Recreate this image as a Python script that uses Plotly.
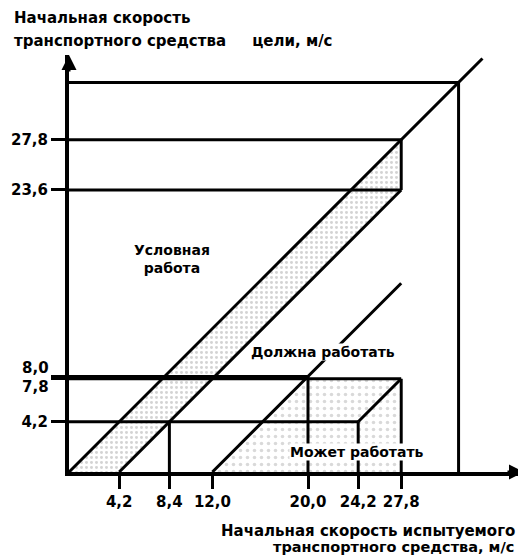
import plotly.graph_objects as go

# ---- key speeds (m/s) ----
x_tick_vals = [4.2, 8.4, 12.0, 20.0, 24.2, 27.8]
x_tick_text = ["4,2", "8,4", "12,0", "20,0", "24,2", "27,8"]
y_tick_vals = [4.2, 7.8, 8.0, 23.6, 27.8]
y_tick_text = ["4,2", "", "", "23,6", "27,8"]
y_close_labels = ["8,0", "7,8"]           # labels for the two close ticks
y_close_vals = [8.0, 7.8]

v_low = 4.2       # relative-speed offset of conditional band
v_sub_a = 8.4
v_rel_must = 12.0
v_sub_b = 20.0
v_sub_c = 24.2
v_max = 27.8
v_tgt_hi = 23.6
v_tgt_lo = 7.8
v_tgt_must = 8.0
frame_max = 32.6
diag_max = 34.6

region_labels = ["Условная<br>работа", "Должна работать", "Может работать"]
y_title_lines = ["Начальная скорость",
                 "транспортного средства" + "\u00a0" * 5 + "цели, м/с"]
x_title_lines = ["Начальная скорость испытуемого",
                 "транспортного средства, м/с"]

# ---- layout geometry (page has an 8px body margin) ----
OFF = 8
W, H = 526 - OFF, 556 - OFF
L, R, T, B = 61, 2, 47, 84
PW, PH = W - L - R, H - T - B
S = 11.95                     # px per m/s
XMAX, YMAX = PW / S, PH / S

def pxx(px):   # page pixel x -> paper
    return (px - OFF - L) / PW

def pxy(py):   # page pixel y -> paper
    return (H - B - (py - OFF)) / PH

FONT = "DejaVu Sans"
fig = go.Figure()

# ---- stippled regions ----
band1_x = [0, v_max, v_max, v_low, 0]
band1_y = [0, v_max, v_tgt_hi, 0, 0]
fig.add_trace(go.Scatter(x=band1_x, y=band1_y, mode="lines", fill="toself",
                         line=dict(width=0), fillcolor="rgba(255,255,255,0)",
                         fillpattern=dict(shape=".", fgcolor="#a8a8a8", bgcolor="rgba(255,255,255,0)",
                                          size=5, solidity=0.28),
                         hoverinfo="skip", showlegend=False))
band2_x = [v_rel_must, v_tgt_lo + v_rel_must, v_max, v_max, v_rel_must]
band2_y = [0, v_tgt_lo, v_tgt_lo, 0, 0]
fig.add_trace(go.Scatter(x=band2_x, y=band2_y, mode="lines", fill="toself",
                         line=dict(width=0), fillcolor="rgba(255,255,255,0)",
                         fillpattern=dict(shape=".", fgcolor="#b4b4b4", bgcolor="rgba(255,255,255,0)",
                                          size=7, solidity=0.2),
                         hoverinfo="skip", showlegend=False))

# ---- line segments, built from the key speeds ----
segments = [
    ((0, 0), (diag_max, diag_max)),                          # y = x
    ((v_low, 0), (v_max, v_max - v_low)),                    # y = x - 4.2
    ((v_rel_must, 0), (v_max, v_max - v_rel_must)),          # y = x - 12
    ((v_sub_c, v_sub_c - v_sub_b), (v_max, v_max - v_sub_b)),  # y = x - 20
    ((0, v_max), (v_max, v_max)),
    ((0, v_tgt_hi), (v_max, v_tgt_hi)),
    ((v_max, v_tgt_hi), (v_max, v_max)),
    ((0, v_tgt_must), (v_sub_b, v_tgt_must)),
    ((0, v_tgt_lo), (v_max, v_tgt_lo)),
    ((0, v_low), (v_sub_c, v_low)),
    ((v_sub_a, 0), (v_sub_a, v_low)),
    ((v_sub_b, 0), (v_sub_b, v_tgt_must)),
    ((v_sub_c, 0), (v_sub_c, v_low)),
    ((v_max, 0), (v_max, v_tgt_lo)),
    ((0, frame_max), (frame_max, frame_max)),
    ((frame_max, 0), (frame_max, frame_max)),
]
lx, ly = [], []
for (x0, y0), (x1, y1) in segments:
    lx += [x0, x1, None]
    ly += [y0, y1, None]
fig.add_trace(go.Scatter(x=lx, y=ly, mode="lines",
                         line=dict(color="black", width=3),
                         hoverinfo="skip", showlegend=False))

ann = []
bold14 = dict(family=FONT, size=14, color="black", weight="bold")
bold15 = dict(family=FONT, size=15, color="black", weight="bold")
# region labels
ann.append(dict(x=pxx(172), y=pxy(259), xref="paper", yref="paper", text=region_labels[0],
                showarrow=False, align="center", xanchor="center", yanchor="middle",
                font=bold14))
ann.append(dict(x=pxx(323), y=pxy(352), xref="paper", yref="paper", text=region_labels[1],
                showarrow=False, bgcolor="white", borderpad=0, xanchor="center", yanchor="middle",
                font=bold14))
ann.append(dict(x=pxx(357), y=pxy(452), xref="paper", yref="paper", text=region_labels[2],
                showarrow=False, bgcolor="white", borderpad=0, xanchor="center", yanchor="middle",
                font=bold14))
# close y tick labels
for lab, yy, shift in zip(y_close_labels, y_close_vals, [8, -8]):
    ann.append(dict(x=pxx(51), y=yy, xref="paper", yref="y", text=lab, yshift=shift,
                    showarrow=False, xanchor="right", yanchor="middle", font=bold15))
# axis titles
for line, py in zip(y_title_lines, [18, 41]):
    ann.append(dict(x=pxx(12), y=pxy(py), xref="paper", yref="paper", text=line,
                    showarrow=False, xanchor="left", yanchor="middle", font=bold15))
for line, px, py, fs in zip(x_title_lines, [219, 271], [531, 547], [15, 14.5]):
    ann.append(dict(x=pxx(px), y=pxy(py), xref="paper", yref="paper", text=line,
                    showarrow=False, xanchor="left", yanchor="middle",
                    font=dict(family=FONT, size=fs, color="black", weight="bold")))
# axis arrowheads
ann.append(dict(x=XMAX, y=0, xref="x", yref="y", text="", showarrow=True,
                ax=-18, ay=0, arrowhead=2, arrowsize=1, arrowwidth=3, arrowcolor="black"))
ann.append(dict(x=0, y=YMAX, xref="x", yref="y", text="", showarrow=True,
                ax=0, ay=18, arrowhead=2, arrowsize=1, arrowwidth=3, arrowcolor="black"))

fig.update_layout(
    width=W, height=H,
    margin=dict(l=L, r=R, t=T, b=B),
    paper_bgcolor="white", plot_bgcolor="white",
    annotations=ann,
    xaxis=dict(range=[0, XMAX], showgrid=False, zeroline=False,
               showline=True, linecolor="black", linewidth=4,
               ticks="outside", ticklen=13, tickwidth=3, tickcolor="black",
               tickvals=x_tick_vals, ticktext=x_tick_text, tickfont=bold15),
    yaxis=dict(range=[0, YMAX], showgrid=False, zeroline=False,
               showline=True, linecolor="black", linewidth=4,
               ticks="outside", ticklen=14, tickwidth=3, tickcolor="black",
               tickvals=y_tick_vals, ticktext=y_tick_text, tickfont=bold15),
)

fig.write_html("out.html")
